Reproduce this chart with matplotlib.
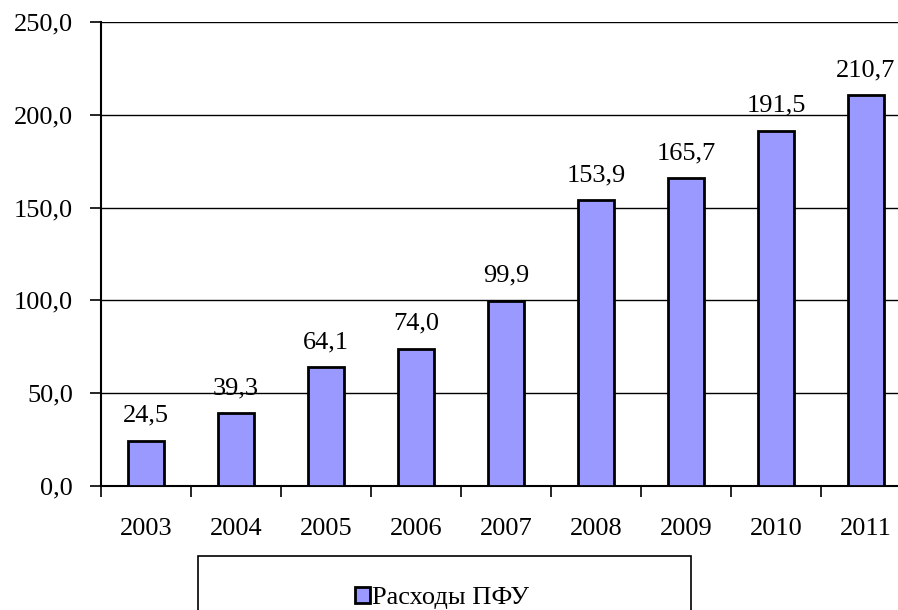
import numpy as np
import matplotlib.pyplot as plt
from matplotlib.patches import Rectangle

# Data
years = ['2003', '2004', '2005', '2006', '2007', '2008', '2009', '2010', '2011']
expenses = [24.5, 39.3, 64.1, 74.0, 99.9, 153.9, 165.7, 191.5, 210.7]
series_name = 'Расходы ПФУ'
y_ticks = [0, 50, 100, 150, 200, 250]

plt.rcParams['font.family'] = ['Liberation Serif', 'DejaVu Serif']

W, H = 898, 610
fig = plt.figure(figsize=(W / 100, H / 100), dpi=100)

# axes placed in pixel terms (right part runs past the figure edge, like the original)
left, right, top, bottom = 101, 911, 22, 486
ax = fig.add_axes([left / W, (H - bottom) / H, (right - left) / W, (bottom - top) / H])

x = np.arange(len(years))
bars = ax.bar(x, expenses, width=0.41, color='#9999FF', edgecolor='black',
              linewidth=2, label=series_name, zorder=3)

for xi, v in zip(x, expenses):
    ax.annotate(f'{v:.1f}'.replace('.', ','), (xi, v), xytext=(0, 10),
                textcoords='offset points', ha='center', va='bottom', fontsize=19)

ax.set_xlim(-0.5, len(years) - 0.5)
ax.set_ylim(0, 250)
ax.set_yticks(y_ticks)
ax.set_yticklabels([f'{t:.1f}'.replace('.', ',') for t in y_ticks], fontsize=19)
ax.tick_params(axis='y', length=8, width=1.2, pad=12, direction='out')

ax.set_xticks(x)
ax.set_xticklabels(years, fontsize=19)
ax.set_xticks(np.arange(len(years) + 1) - 0.5, minor=True)
ax.tick_params(axis='x', which='major', length=0, pad=23)
ax.tick_params(axis='x', which='minor', length=8, width=1.2, direction='out')

ax.grid(axis='y', color='black', linewidth=1, zorder=0)
ax.set_axisbelow(True)
for s in ['top', 'right']:
    ax.spines[s].set_visible(False)
ax.spines['left'].set_linewidth(1.5)
ax.spines['bottom'].set_linewidth(1.5)

# legend box, Excel style, wider than its content
fig.patches.append(Rectangle((198 / W, -0.1), (691 - 198) / W, (H - 556) / H + 0.1,
                             transform=fig.transFigure, fill=False,
                             edgecolor='black', linewidth=1.2))
fig.legend(handles=[bars], labels=[series_name], loc='center',
           bbox_to_anchor=(442 / W, (H - 598) / H), frameon=False, fontsize=19,
           handlelength=0.55, handleheight=0.55, handletextpad=0.1)

plt.savefig('out.png', dpi=100)
